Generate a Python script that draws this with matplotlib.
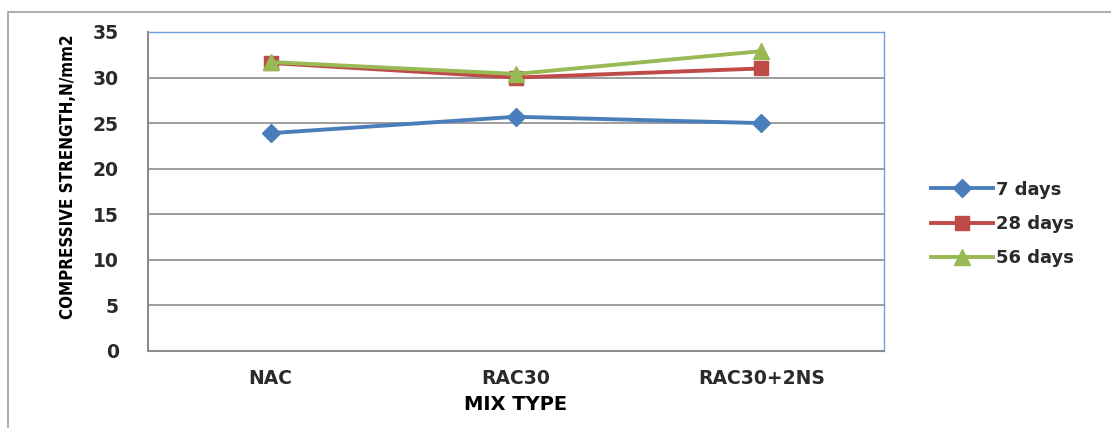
import matplotlib.pyplot as plt
from matplotlib.patches import Rectangle

mix_types = ['NAC', 'RAC30', 'RAC30+2NS']
days_7 = [23.9, 25.7, 25.0]
days_28 = [31.6, 30.0, 31.0]
days_56 = [31.7, 30.4, 32.9]
series_labels = ['7 days', '28 days', '56 days']

fig = plt.figure(figsize=(11.11, 4.28), dpi=100)
ax = fig.add_axes([148 / 1111, 1 - 351 / 428, 736 / 1111, 319 / 428])

# outer chart frame
fig.patches.append(Rectangle((8 / 1111, -0.01), 1.1, 1 - 12 / 428 + 0.01,
                             transform=fig.transFigure, fill=False,
                             edgecolor='#a0a0a0', linewidth=1.2))

x = range(len(mix_types))
ax.plot(x, days_7, color='#4A7EBB', marker='D', markersize=9, linewidth=2.8,
        label=series_labels[0])
ax.plot(x, days_28, color='#BE4B48', marker='s', markersize=10, linewidth=2.8,
        label=series_labels[1])
ax.plot(x, days_56, color='#98B954', marker='^', markersize=11, linewidth=2.8,
        label=series_labels[2])

ax.set_xlim(-0.5, 2.5)
ax.set_ylim(0, 35)
ax.set_yticks(range(0, 36, 5))
ax.set_xticks(list(x))
ax.set_xticklabels(mix_types)
ax.yaxis.grid(True, color='#8c8c8c', linewidth=1.2)
ax.set_axisbelow(True)
ax.tick_params(length=0, labelsize=13.5, colors='#2a2a2a')
ax.tick_params(axis='y', pad=21)
ax.tick_params(axis='x', pad=13)
for lbl in ax.get_xticklabels() + ax.get_yticklabels():
    lbl.set_fontweight('bold')

for side in ['left', 'bottom']:
    ax.spines[side].set_color('#8c8c8c')
    ax.spines[side].set_linewidth(1.5)
for side in ['top', 'right']:
    ax.spines[side].set_color('#6f9fd8')
    ax.spines[side].set_linewidth(1.0)

ax.set_xlabel('MIX TYPE', fontsize=14, fontweight='bold', labelpad=5)
ax.set_ylabel('COMPRESSIVE STRENGTH,N/mm2', fontsize=12.2, fontweight='bold',
              fontstretch='condensed')
ax.yaxis.set_label_coords(-0.097, 0.547)

leg = fig.legend(loc='center left', bbox_to_anchor=(915 / 1111, 1 - 224 / 428),
                 frameon=False, prop={'size': 13, 'weight': 'bold'},
                 handlelength=3.4, labelspacing=0.9, handletextpad=0.2)
for t in leg.get_texts():
    t.set_color('#2a2a2a')

fig.savefig('out.png', dpi=100)
